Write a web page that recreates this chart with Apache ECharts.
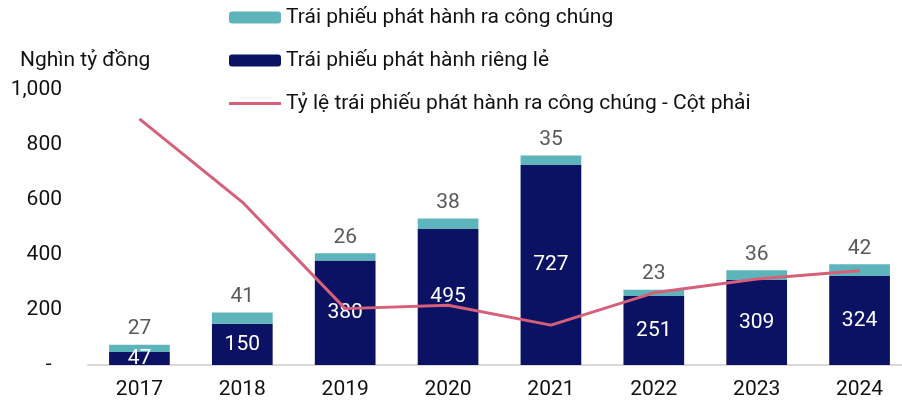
<!DOCTYPE html>
<html>
<head>
<meta charset="utf-8">
<script src="https://cdn.jsdelivr.net/npm/echarts@6/dist/echarts.min.js"></script>
<style>
  html, body { margin: 0; padding: 0; background: #fff; }
  #chart { width: 902px; height: 402px; }
</style>
</head>
<body>
<div id="chart"></div>
<script>
// số liệu
const years = ['2017', '2018', '2019', '2020', '2021', '2022', '2023', '2024']
const privateBonds = [47, 150, 380, 495, 727, 251, 309, 324]
const publicBonds = [27, 41, 26, 38, 35, 23, 36, 42]
// tỷ lệ (%) - cột phải (ẩn)
const publicRatio = [35.8, 23.7, 8.2, 8.7, 5.8, 10.5, 12.5, 13.7]
const yTicks = [0, 200, 400, 600, 800, 1000]

const names = [
  'Trái phiếu phát hành ra công chúng',
  'Trái phiếu phát hành riêng lẻ',
  'Tỷ lệ trái phiếu phát hành ra công chúng - Cột phải'
]
const font = 'Roboto'
const fs = 21

const chart = echarts.init(document.getElementById('chart'))
chart.setOption({
  animation: false,
  textStyle: { fontFamily: font },
  title: {
    text: 'Nghìn tỷ đồng',
    left: 20,
    top: 50,
    padding: 0,
    textStyle: { fontFamily: font, fontSize: fs, fontWeight: 'normal', color: '#111' }
  },
  legend: {
    orient: 'vertical',
    left: 229,
    top: 7,
    padding: 0,
    itemWidth: 52,
    itemHeight: 12,
    itemGap: 22,
    symbolKeepAspect: true,
    data: [
      names[0],
      names[1],
      { name: names[2], icon: 'path://M0,0L52,0L52,3L0,3Z' }
    ],
    textStyle: { fontFamily: font, fontSize: fs, color: '#111' }
  },
  grid: { left: 88, right: -9, top: 90, bottom: 37, outerBoundsMode: 'none' },
  xAxis: {
    type: 'category',
    data: years,
    axisTick: { show: false },
    axisLine: { lineStyle: { color: '#d9d9d9', width: 2 } },
    axisLabel: { fontSize: fs, color: '#111', margin: 14 }
  },
  yAxis: [
    {
      type: 'value',
      min: yTicks[0],
      max: yTicks[yTicks.length - 1],
      interval: 200,
      splitLine: { show: false },
      axisLine: { show: false },
      axisTick: { show: false },
      axisLabel: {
        fontSize: fs,
        color: '#111',
        margin: 26,
        formatter: v => v === 0 ? '-  ' : v.toLocaleString('en-US')
      }
    },
    { type: 'value', show: false, min: 0, max: 40 }
  ],
  series: [
    {
      name: names[1],
      type: 'bar',
      stack: 'a',
      barWidth: '59%',
      data: privateBonds,
      itemStyle: { color: '#0c1263' },
      label: { show: true, position: 'inside', color: '#fff', fontSize: fs }
    },
    {
      name: names[0],
      type: 'bar',
      stack: 'a',
      data: publicBonds,
      itemStyle: { color: '#5db5bb' },
      label: { show: true, position: 'top', distance: 5, color: '#595959', fontSize: fs }
    },
    {
      name: names[2],
      type: 'line',
      yAxisIndex: 1,
      data: publicRatio,
      symbol: 'none',
      lineStyle: { color: '#d6607a', width: 3 },
      itemStyle: { color: '#d6607a' }
    }
  ]
})
</script>
</body>
</html>
